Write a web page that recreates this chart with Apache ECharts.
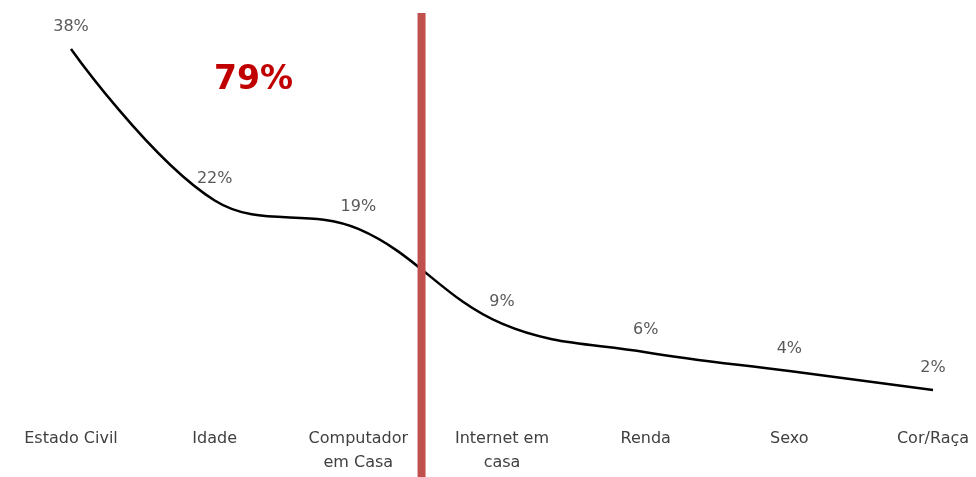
<!DOCTYPE html>
<html><head><meta charset="utf-8">
<script src="https://cdn.jsdelivr.net/npm/echarts@6/dist/echarts.min.js"></script>
<style>html,body{margin:0;padding:0;background:#fff}#c{width:976px;height:477px}</style>
</head><body><div id="c"></div>
<script>
const categories = ['Estado Civil', 'Idade', 'Computador\nem Casa', 'Internet em\ncasa', 'Renda', 'Sexo', 'Cor/Raça'];
const values = [38, 22, 19, 9, 6, 4, 2];
const highlightText = '79%';
const dividerPosition = 2.44;

const chart = echarts.init(document.getElementById('c'), null, {renderer: 'canvas'});
const option = {
  animation: false,
  backgroundColor: '#ffffff',
  grid: {left: 71, right: 43, top: 30, bottom: 68},
  xAxis: {
    type: 'category', data: categories, boundaryGap: false,
    axisLine: {show: false}, axisTick: {show: false}, splitLine: {show: false},
    axisLabel: {color: '#404040', fontSize: 16, fontFamily: 'DejaVu Sans', margin: 18, lineHeight: 24, interval: 0}
  },
  yAxis: {type: 'value', min: 0, max: 40, show: false, splitLine: {show: false}},
  series: [{
    type: 'line', data: values, smooth: 0.38,
    symbol: 'circle', symbolSize: 0, showSymbol: true,
    lineStyle: {color: '#000000', width: 2.5},
    label: {show: true, position: 'top', distance: 14, formatter: '{c}%', color: '#595959', fontSize: 16, fontFamily: 'DejaVu Sans'}
  }],
  graphic: [{
    type: 'text', left: 214, top: 64,
    style: {text: highlightText, fill: '#c00000', font: 'bold 33px DejaVu Sans'}
  }]
};
chart.setOption(option);
const i0 = Math.floor(dividerPosition);
const x1 = chart.convertToPixel({xAxisIndex: 0}, i0);
const x2 = chart.convertToPixel({xAxisIndex: 0}, i0 + 1);
const mid = x1 + (x2 - x1) * (dividerPosition - i0);
chart.setOption({graphic: [option.graphic[0], {
  type: 'rect', z: 10,
  shape: {x: mid - 4, y: 13, width: 8, height: 477 - 13},
  style: {fill: '#c0504d'}
}]});
</script></body></html>
